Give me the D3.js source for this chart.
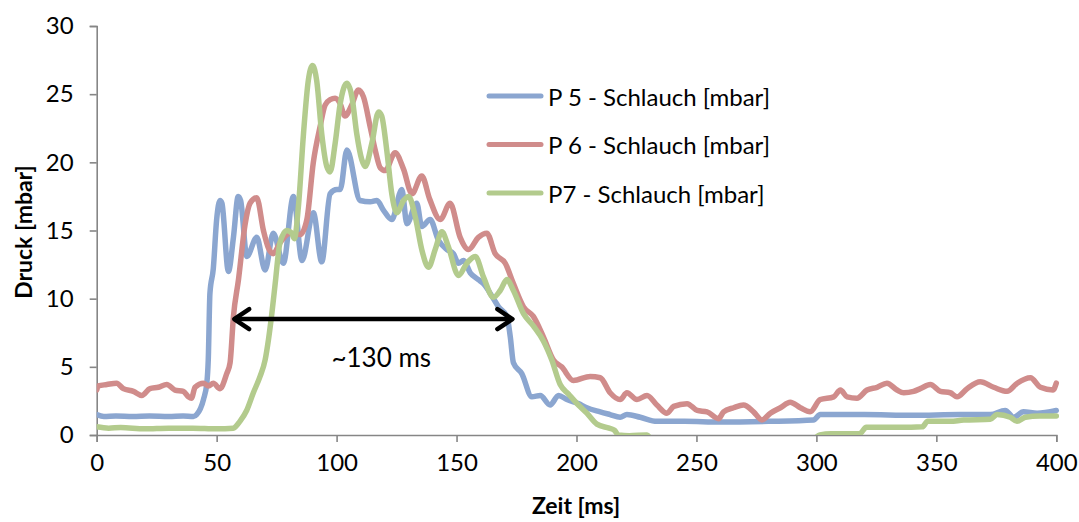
<!DOCTYPE html>
<html>
<head>
<meta charset="utf-8">
<script src="https://cdn.jsdelivr.net/npm/d3@7"></script>
<style>
  html, body { margin: 0; padding: 0; background: #fff; }
  svg { display: block; }
  text { font-family: Lato, "Open Sans", sans-serif; fill: #000; }
</style>
</head>
<body>
<svg id="chart" width="1079" height="522"></svg>
<script>
// ---- data (time in ms, pressure in mbar) ----
const seriesNames = ["P 5 - Schlauch [mbar]", "P 6 - Schlauch [mbar]", "P7 - Schlauch [mbar]"];
const seriesColors = ["#8BA6D0", "#D08C8B", "#B3CB8D"];

const p5 = [
  [0,1.5],[3,1.35],[8,1.4],[15,1.35],[22,1.4],[30,1.35],[36,1.4],[40.3,1.35],[41.7,1.5],
  [44.5,2.6],[45.9,3.8],[46.5,5.5],[47.2,10.4],[48.6,12.2],[50.0,15.8],[51.4,17.2],[52.2,17.0],
  [54.9,12.0],[57,14.5],[59.0,17.5],[60,17.2],[62.6,13.1],[66.7,14.5],[70.2,12.1],[73.6,14.8],
  [77.8,12.6],[82.0,17.5],[85.6,12.8],[90.3,16.3],[93.8,12.7],[97.3,17.7],[100.1,18.0],
  [101.5,18.0],[104.3,20.9],[109.8,17.2],[114.0,17.1],[116.8,17.2],[119.5,16.5],[123.0,15.8],
  [127.2,18.0],[129.3,15.5],[133.4,17.0],[135.5,15.3],[139.0,15.8],[142.4,14.3],[146.0,13.6],
  [148.7,13.3],[150.8,12.6],[152.9,12.8],[155.7,11.9],[159.1,11.4],[161.2,11.1],[165.4,10.0],
  [167.5,9.4],[171.0,8.7],[172.4,7.2],[173.7,5.3],[177.2,4.5],[181.4,2.8],[184.9,2.9],
  [189.0,2.2],[192.5,2.9],[196.0,2.6],[200.8,2.3],[204.3,2.0],[209.9,1.7],[214.0,1.5],
  [218.2,1.3],[221.0,1.5],[226.6,1.3],[233.5,1.0],[245,1.0],[260,0.95],[280,1.0],[298.8,1.1],
  [301.6,1.5],[320,1.5],[340,1.45],[360,1.5],[372.5,1.5],[378.7,1.8],[382.2,1.3],[386.3,1.7],
  [392,1.6],[400,1.8]
];

const p6 = [
  [0,3.3],[0.7,3.6],[4.2,3.7],[8.3,3.8],[11.1,3.4],[15.3,3.2],[18.8,2.9],[22.2,3.4],[25.7,3.5],
  [29.2,3.7],[32.6,3.3],[36.1,3.2],[38.2,2.8],[39.5,2.7],[41.0,3.5],[44.5,3.8],[46.6,3.6],
  [48.6,3.8],[51.4,3.4],[54.2,4.5],[55.6,5.3],[57.0,8.7],[59.1,11.4],[61.9,15.5],[63.9,17.0],
  [66.7,17.4],[69.5,15.0],[71.6,13.7],[73.6,13.3],[76.4,14.1],[80.6,14.8],[84.8,14.7],
  [87.6,15.8],[90.3,20.0],[93.1,22.6],[95.2,24.2],[97.3,24.6],[99.4,24.7],[101.5,24.3],
  [103.5,23.4],[106.3,24.2],[109.1,25.3],[111.2,24.8],[114.0,22.6],[116.1,20.9],[118.2,19.6],
  [120.3,19.4],[124.4,20.7],[127.9,19.5],[131.4,17.7],[135.5,19.0],[138.8,17.3],[143.2,15.8],
  [147.3,17.0],[151.5,14.5],[155.0,13.6],[159.1,14.5],[162.6,14.8],[166.1,13.3],[170.3,12.6],
  [173.7,11.1],[177.9,9.4],[182.0,8.7],[186.2,7.2],[190.4,5.5],[193.8,5.0],[198.7,4.0],
  [205.7,4.3],[209.9,4.2],[214.0,3.1],[218.2,2.6],[221.0,3.1],[225.2,2.6],[229.4,2.9],
  [233.5,2.2],[237.7,1.6],[240.5,2.1],[246.1,2.3],[250.3,1.8],[254.4,1.7],[259.2,1.2],
  [261.3,1.7],[265.5,2.0],[269.6,2.2],[273.8,1.7],[277.3,1.1],[280.8,1.6],[285.0,2.0],
  [289.1,2.4],[293.3,2.0],[297.4,1.7],[301.6,2.6],[307.2,2.8],[310.0,3.3],[312.8,2.8],
  [316.9,2.7],[321.1,3.3],[325.3,3.5],[329.4,3.8],[333.6,3.3],[336.4,3.1],[340.5,3.2],
  [343.3,3.4],[347.5,3.7],[351.7,3.2],[355.8,3.1],[358.6,2.8],[362.8,3.4],[368.3,3.9],
  [373.9,3.5],[379.5,3.2],[383.7,3.8],[389.2,4.2],[393.4,3.5],[398.6,3.3],[400,3.8]
];

const p7 = [
  [0,0.6],[5,0.5],[10,0.55],[20,0.45],[30,0.5],[40,0.5],[50,0.45],[56.9,0.5],[59.7,1.0],
  [62.5,1.8],[65.3,3.1],[68.1,4.3],[70.2,5.5],[71.6,7.0],[73.0,8.9],[74.4,11.1],[76.4,14.1],
  [79.2,15.0],[81.3,14.8],[82.4,14.4],[84.1,16.8],[86.2,22.1],[88.2,26.0],[90.0,27.1],
  [91.7,26.0],[93.8,22.1],[95.9,19.7],[97.3,19.3],[99.4,21.4],[101.5,24.3],[104.3,25.8],
  [106.4,24.8],[108.4,22.1],[110.5,20.2],[111.9,19.7],[114.7,21.4],[117.5,23.7],[118.8,23.4],
  [120.9,20.9],[123.0,17.7],[125.1,16.3],[127.9,17.2],[130.0,17.5],[132.8,16.0],[135.5,13.6],
  [138.3,12.3],[141.1,13.6],[143.9,14.9],[146.6,13.8],[150.8,11.7],[154.3,12.6],[157.8,13.1],
  [161.2,11.6],[165.4,10.1],[168.2,10.6],[171.0,11.4],[173.7,10.6],[177.9,8.9],[182.0,8.0],
  [186.2,6.9],[189.7,5.5],[193.2,3.7],[196.7,3.0],[200.8,2.2],[204.3,1.6],[208.5,0.8],
  [213.6,0.5],[215.8,0.35],[217.5,0.0],[222,-0.05],[229.4,0.0],[232,-0.5],[250,-0.5],
  [280,-0.5],[298.5,-0.3],[301.5,0.0],[306.1,0.1],[318,0.1],[320.8,0.56],[335,0.56],
  [344.1,0.6],[346.4,1.0],[355.8,1.0],[361.4,1.1],[372.5,1.15],[375.3,1.5],[380.8,1.3],
  [383.6,1.0],[387.1,1.3],[393,1.4],[400,1.4]
];

const xTicks = [0, 50, 100, 150, 200, 250, 300, 350, 400];
const yTicks = [0, 5, 10, 15, 20, 25, 30];
const xTitle = "Zeit [ms]";
const yTitle = "Druck [mbar]";

// annotation: double arrow from t=56.9 to t=173.7 at 8.5 mbar
const arrowSpan = [56.9, 173.7];
const arrowLevel = 8.5;
const arrowLabel = "~130 ms";
const arrowLabelPos = [118.6, 5.7];

// ---- drawing ----
const svg = d3.select("#chart");
const mLeft = 96.7, mRight = 1056.3, mTop = 26, mBottom = 435;

const x = d3.scaleLinear().domain([0, 400]).range([mLeft, mRight]);
const y = d3.scaleLinear().domain([0, 30]).range([mBottom, mTop]);

const axisColor = "#868686";

svg.append("defs").append("clipPath").attr("id", "plotclip")
  .append("rect").attr("x", mLeft).attr("y", mTop - 10)
  .attr("width", mRight - mLeft + 6).attr("height", mBottom - mTop + 10);

// y axis
const yAxis = svg.append("g").attr("transform", `translate(${mLeft},0)`)
  .call(d3.axisLeft(y).tickValues(yTicks).tickSize(7).tickPadding(16).tickFormat(d3.format("d")));
yAxis.select(".domain").attr("stroke", axisColor).attr("stroke-width", 1.6);
yAxis.selectAll(".tick line").attr("stroke", axisColor).attr("stroke-width", 1.6);
yAxis.selectAll(".tick text").style("font-size", "24px").style("font-family", "Lato, sans-serif").attr("fill", "#000");

// x axis
const xAxis = svg.append("g").attr("transform", `translate(0,${mBottom})`)
  .call(d3.axisBottom(x).tickValues(xTicks).tickSize(7).tickPadding(12).tickFormat(d3.format("d")));
xAxis.select(".domain").attr("stroke", axisColor).attr("stroke-width", 1.6);
xAxis.selectAll(".tick line").attr("stroke", axisColor).attr("stroke-width", 1.6);
xAxis.selectAll(".tick text").style("font-size", "24px").style("font-family", "Lato, sans-serif").attr("fill", "#000");

// series
const line = d3.line().x(d => x(d[0])).y(d => y(d[1])).curve(d3.curveMonotoneX);
const allSeries = [p5, p6, p7];
const plot = svg.append("g").attr("clip-path", "url(#plotclip)");
allSeries.forEach((s, i) => {
  plot.append("path").datum(s)
    .attr("d", line)
    .attr("fill", "none")
    .attr("stroke", seriesColors[i])
    .attr("stroke-width", 5.5)
    .attr("stroke-linejoin", "round")
    .attr("stroke-linecap", "round");
});

// arrow
const ay = y(arrowLevel), ax1 = x(arrowSpan[0]), ax2 = x(arrowSpan[1]);
const arrowG = svg.append("g").attr("stroke", "#000").attr("fill", "none")
  .attr("stroke-width", 4.5).attr("stroke-linecap", "round").attr("stroke-linejoin", "round");
arrowG.append("line").attr("x1", ax1 + 2).attr("x2", ax2 - 2).attr("y1", ay).attr("y2", ay);
arrowG.append("path").attr("d", `M${ax1 + 16},${ay - 10} L${ax1 + 1},${ay} L${ax1 + 16},${ay + 10}`);
arrowG.append("path").attr("d", `M${ax2 - 16},${ay - 10} L${ax2 - 1},${ay} L${ax2 - 16},${ay + 10}`);

svg.append("text").attr("x", x(arrowLabelPos[0])).attr("y", y(arrowLabelPos[1]))
  .attr("text-anchor", "middle").attr("dominant-baseline", "central")
  .style("font-size", "26px").text(arrowLabel);

// legend
const legend = svg.append("g");
const legendY = [96, 144.5, 193];
seriesNames.forEach((n, i) => {
  legend.append("line").attr("x1", 489).attr("x2", 541)
    .attr("y1", legendY[i]).attr("y2", legendY[i])
    .attr("stroke", seriesColors[i]).attr("stroke-width", 5).attr("stroke-linecap", "round");
  legend.append("text").attr("x", 548).attr("y", legendY[i])
    .attr("dominant-baseline", "central").style("font-size", "24px").text(n);
});

// axis titles
svg.append("text").attr("x", 576).attr("y", 505)
  .attr("text-anchor", "middle").attr("dominant-baseline", "central")
  .style("font-size", "23px").style("font-weight", "bold").text(xTitle);
svg.append("text").attr("transform", "translate(23,232) rotate(-90)")
  .attr("text-anchor", "middle").attr("dominant-baseline", "central")
  .style("font-size", "23px").style("font-weight", "bold").text(yTitle);
</script>
</body>
</html>
